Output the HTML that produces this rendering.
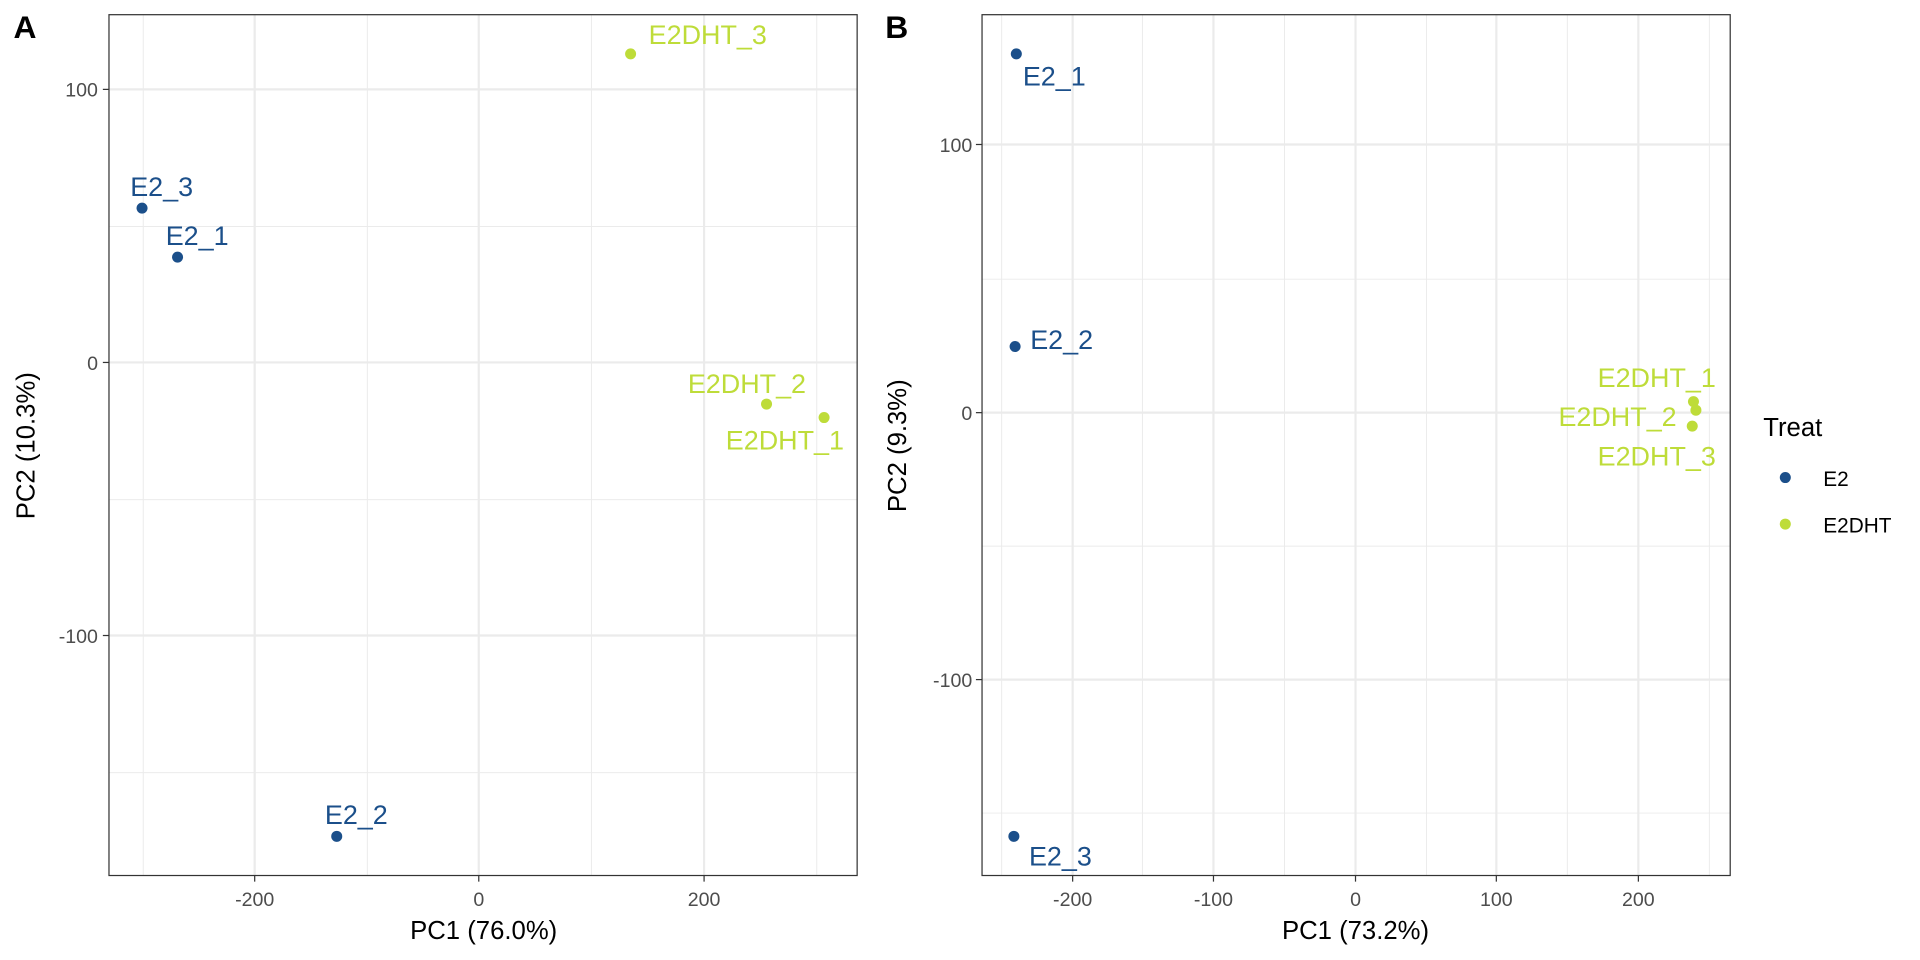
<!DOCTYPE html>
<html><head><meta charset="utf-8"><style>html,body{margin:0;padding:0;background:#fff}svg{display:block}</style></head>
<body>
<svg width="1920" height="960" viewBox="0 0 1568 784" xmlns="http://www.w3.org/2000/svg" font-family="Liberation Sans, sans-serif">
<rect width="1568" height="784" fill="#fff"/>
<!-- Panel A -->
<g stroke="#ebebeb" stroke-width="0.8">
<line x1="117" y1="12" x2="117" y2="715"/><line x1="300" y1="12" x2="300" y2="715"/><line x1="483" y1="12" x2="483" y2="715"/><line x1="667" y1="12" x2="667" y2="715"/>
<line x1="89" y1="185" x2="700" y2="185"/><line x1="89" y1="408" x2="700" y2="408"/><line x1="89" y1="631" x2="700" y2="631"/>
</g>
<g stroke="#ebebeb" stroke-width="1.8">
<line x1="208" y1="12" x2="208" y2="715"/><line x1="391" y1="12" x2="391" y2="715"/><line x1="575" y1="12" x2="575" y2="715"/>
<line x1="89" y1="73" x2="700" y2="73"/><line x1="89" y1="296" x2="700" y2="296"/><line x1="89" y1="519" x2="700" y2="519"/>
</g>
<rect x="89" y="12" width="611" height="703" fill="none" stroke="#333" stroke-width="1"/>
<g stroke="#333"><line x1="84" y1="73" x2="89" y2="73"/><line x1="84" y1="296" x2="89" y2="296"/><line x1="84" y1="519" x2="89" y2="519"/>
<line x1="208" y1="715" x2="208" y2="720"/><line x1="391" y1="715" x2="391" y2="720"/><line x1="575" y1="715" x2="575" y2="720"/></g>
<g font-size="16" fill="#4d4d4d" text-anchor="end"><text x="80" y="79">100</text><text x="80" y="302">0</text><text x="80" y="525">-100</text></g>
<g font-size="16" fill="#4d4d4d" text-anchor="middle"><text x="208" y="740">-200</text><text x="391" y="740">0</text><text x="575" y="740">200</text></g>
<text x="395" y="767" font-size="21" text-anchor="middle">PC1 (76.0%)</text>
<text transform="translate(28,364) rotate(-90)" font-size="21" text-anchor="middle">PC2 (10.3%)</text>
<text x="11" y="31" font-size="26" font-weight="bold">A</text>
<g fill="#1b4f8a"><circle cx="116" cy="170" r="4.5"/><circle cx="145" cy="210" r="4.5"/><circle cx="275" cy="683" r="4.5"/></g>
<g fill="#bedc39"><circle cx="515" cy="44" r="4.5"/><circle cx="626" cy="330" r="4.5"/><circle cx="673" cy="341" r="4.5"/></g>
<g font-size="22" text-anchor="middle" fill="#1b4f8a"><text x="132" y="160">E2_3</text><text x="161" y="200">E2_1</text><text x="291" y="673">E2_2</text></g>
<g font-size="22" text-anchor="middle" fill="#bedc39"><text x="578" y="36">E2DHT_3</text><text x="610" y="321">E2DHT_2</text><text x="641" y="367">E2DHT_1</text></g>
<!-- Panel B -->
<g stroke="#ebebeb" stroke-width="0.8">
<line x1="818" y1="12" x2="818" y2="715"/><line x1="933" y1="12" x2="933" y2="715"/><line x1="1049" y1="12" x2="1049" y2="715"/><line x1="1165" y1="12" x2="1165" y2="715"/><line x1="1280" y1="12" x2="1280" y2="715"/><line x1="1396" y1="12" x2="1396" y2="715"/>
<line x1="802" y1="228" x2="1413" y2="228"/><line x1="802" y1="446" x2="1413" y2="446"/><line x1="802" y1="664" x2="1413" y2="664"/>
</g>
<g stroke="#ebebeb" stroke-width="1.8">
<line x1="876" y1="12" x2="876" y2="715"/><line x1="991" y1="12" x2="991" y2="715"/><line x1="1107" y1="12" x2="1107" y2="715"/><line x1="1222" y1="12" x2="1222" y2="715"/><line x1="1338" y1="12" x2="1338" y2="715"/>
<line x1="802" y1="118" x2="1413" y2="118"/><line x1="802" y1="337" x2="1413" y2="337"/><line x1="802" y1="555" x2="1413" y2="555"/>
</g>
<rect x="802" y="12" width="611" height="703" fill="none" stroke="#333" stroke-width="1"/>
<g stroke="#333"><line x1="797" y1="118" x2="802" y2="118"/><line x1="797" y1="337" x2="802" y2="337"/><line x1="797" y1="555" x2="802" y2="555"/>
<line x1="876" y1="715" x2="876" y2="720"/><line x1="991" y1="715" x2="991" y2="720"/><line x1="1107" y1="715" x2="1107" y2="720"/><line x1="1222" y1="715" x2="1222" y2="720"/><line x1="1338" y1="715" x2="1338" y2="720"/></g>
<g font-size="16" fill="#4d4d4d" text-anchor="end"><text x="794" y="124">100</text><text x="794" y="343">0</text><text x="794" y="561">-100</text></g>
<g font-size="16" fill="#4d4d4d" text-anchor="middle"><text x="876" y="740">-200</text><text x="991" y="740">-100</text><text x="1107" y="740">0</text><text x="1222" y="740">100</text><text x="1338" y="740">200</text></g>
<text x="1107" y="767" font-size="21" text-anchor="middle">PC1 (73.2%)</text>
<text transform="translate(740,364) rotate(-90)" font-size="21" text-anchor="middle">PC2 (9.3%)</text>
<text x="723" y="31" font-size="26" font-weight="bold">B</text>
<g fill="#1b4f8a"><circle cx="830" cy="44" r="4.5"/><circle cx="829" cy="283" r="4.5"/><circle cx="828" cy="683" r="4.5"/></g>
<g fill="#bedc39"><circle cx="1383" cy="328" r="4.5"/><circle cx="1385" cy="335" r="4.5"/><circle cx="1382" cy="348" r="4.5"/></g>
<g font-size="22" text-anchor="middle" fill="#1b4f8a"><text x="861" y="70">E2_1</text><text x="867" y="285">E2_2</text><text x="866" y="707">E2_3</text></g>
<g font-size="22" text-anchor="middle" fill="#bedc39"><text x="1353" y="316">E2DHT_1</text><text x="1321" y="348">E2DHT_2</text><text x="1353" y="380">E2DHT_3</text></g>
<!-- Legend -->
<text x="1440" y="356" font-size="21">Treat</text>
<circle cx="1458" cy="390" r="4.5" fill="#1b4f8a"/><text x="1489" y="397" font-size="17">E2</text>
<circle cx="1458" cy="428" r="4.5" fill="#bedc39"/><text x="1489" y="435" font-size="17">E2DHT</text>
</svg>
</body></html>
